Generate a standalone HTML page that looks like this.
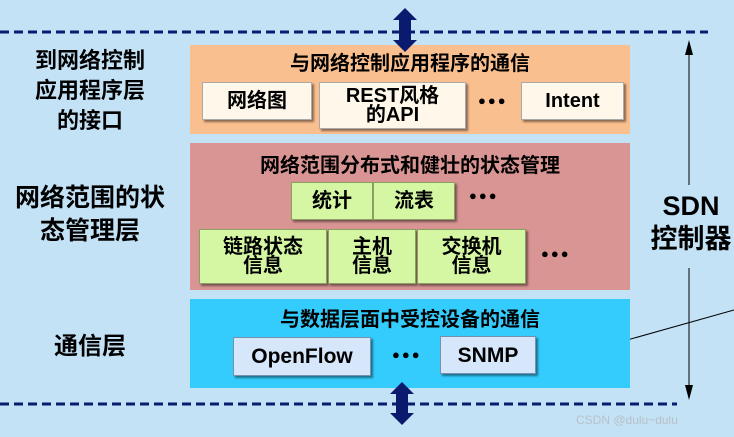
<!DOCTYPE html>
<html><head><meta charset="utf-8"><style>
*{margin:0;padding:0;box-sizing:border-box}
body{width:734px;height:437px;background:#c3e2f6;position:relative;overflow:hidden;font-family:"Liberation Sans","Noto Sans CJK SC",sans-serif;font-weight:bold;color:#000}
.a{position:absolute}
.lay{position:absolute;left:190px;width:440px}
.t{position:absolute;left:0;width:100%;text-align:center;font-size:20px;line-height:22px}
.bx{position:absolute;display:flex;align-items:center;justify-content:center;text-align:center;line-height:19px;box-shadow:2px 2px 2px rgba(0,0,0,.45);border:1px solid #aaa}
.w{background:#fff8ea;font-size:20px}
.g{background:#d5f7a4;border-color:#8aa060;font-size:20px}
.b{background:#d6e6fb;font-size:21px;border-color:#7890b0}
.lbl{position:absolute;text-align:center}
.dots{position:absolute;font-size:13px;letter-spacing:2px}
</style></head><body>
<svg class="a" style="left:0;top:0" width="734" height="437">
<line x1="0" y1="32" x2="708" y2="32" stroke="#0a1a6e" stroke-width="3" stroke-dasharray="9,5"/>
<line x1="0" y1="404" x2="677" y2="404" stroke="#0a1a6e" stroke-width="3" stroke-dasharray="9,5"/>
<line x1="689" y1="50" x2="689" y2="185" stroke="#000" stroke-width="1"/>
<polygon points="689,40 685,55 693,55" fill="#000"/>
<line x1="689" y1="268" x2="689" y2="395" stroke="#000" stroke-width="1"/>
<polygon points="689,400 685,385 693,385" fill="#000"/>
<line x1="588" y1="351" x2="734" y2="310" stroke="#000" stroke-width="1"/>
</svg>
<div class="lay" style="top:45px;height:89px;background:#fabf8f"><div class="t" style="top:8px">与网络控制应用程序的通信</div></div>
<div class="lay" style="top:143px;height:147px;background:#d99594"><div class="t" style="top:12px">网络范围分布式和健壮的状态管理</div></div>
<div class="lay" style="top:299px;height:89px;background:#33ccfd"><div class="t" style="top:10px">与数据层面中受控设备的通信</div></div>
<svg class="a" style="left:0;top:0" width="734" height="437">
<polygon points="405,8 417,20 411,20 411,40 417,40 405,52 393,40 399,40 399,20 393,20" fill="#0a1a6e"/>
<polygon points="402,382 414,394 408,394 408,413 414,413 402,425 390,413 396,413 396,394 390,394" fill="#0a1a6e"/>
</svg>
<div class="bx w" style="left:202px;top:82px;width:110px;height:38px">网络图</div>
<div class="bx w" style="left:319px;top:82px;width:147px;height:47px">REST风格<br>的API</div>
<div class="dots" style="left:478px;top:93px">●●●</div>
<div class="bx w" style="left:521px;top:82px;width:103px;height:38px">Intent</div>
<div class="bx g" style="left:291px;top:182px;width:82px;height:38px">统计</div>
<div class="bx g" style="left:373px;top:182px;width:82px;height:38px">流表</div>
<div class="dots" style="left:469px;top:188px">●●●</div>
<div class="bx g" style="left:199px;top:229px;width:128px;height:55px">链路状态<br>信息</div>
<div class="bx g" style="left:328px;top:229px;width:88px;height:55px">主机<br>信息</div>
<div class="bx g" style="left:417px;top:229px;width:109px;height:55px">交换机<br>信息</div>
<div class="dots" style="left:541px;top:246px">●●●</div>
<div class="bx b" style="left:233px;top:337px;width:138px;height:39px">OpenFlow</div>
<div class="dots" style="left:392px;top:347px">●●●</div>
<div class="bx b" style="left:440px;top:336px;width:96px;height:38px">SNMP</div>
<div class="lbl" style="left:0;width:180px;top:46px;font-size:22px;line-height:30px">到网络控制<br>应用程序层<br>的接口</div>
<div class="lbl" style="left:0;width:180px;top:182px;font-size:25px;line-height:33px">网络范围的状<br>态管理层</div>
<div class="lbl" style="left:0;width:180px;top:332px;font-size:24px;line-height:30px">通信层</div>
<div class="lbl" style="left:646px;width:90px;top:190px;font-size:27px;line-height:33px">SDN<br>控制器</div>
<div class="a" style="left:576px;top:413px;font-size:12px;font-weight:normal;color:#b8c0c8">CSDN @dulu~dulu</div>
</body></html>
